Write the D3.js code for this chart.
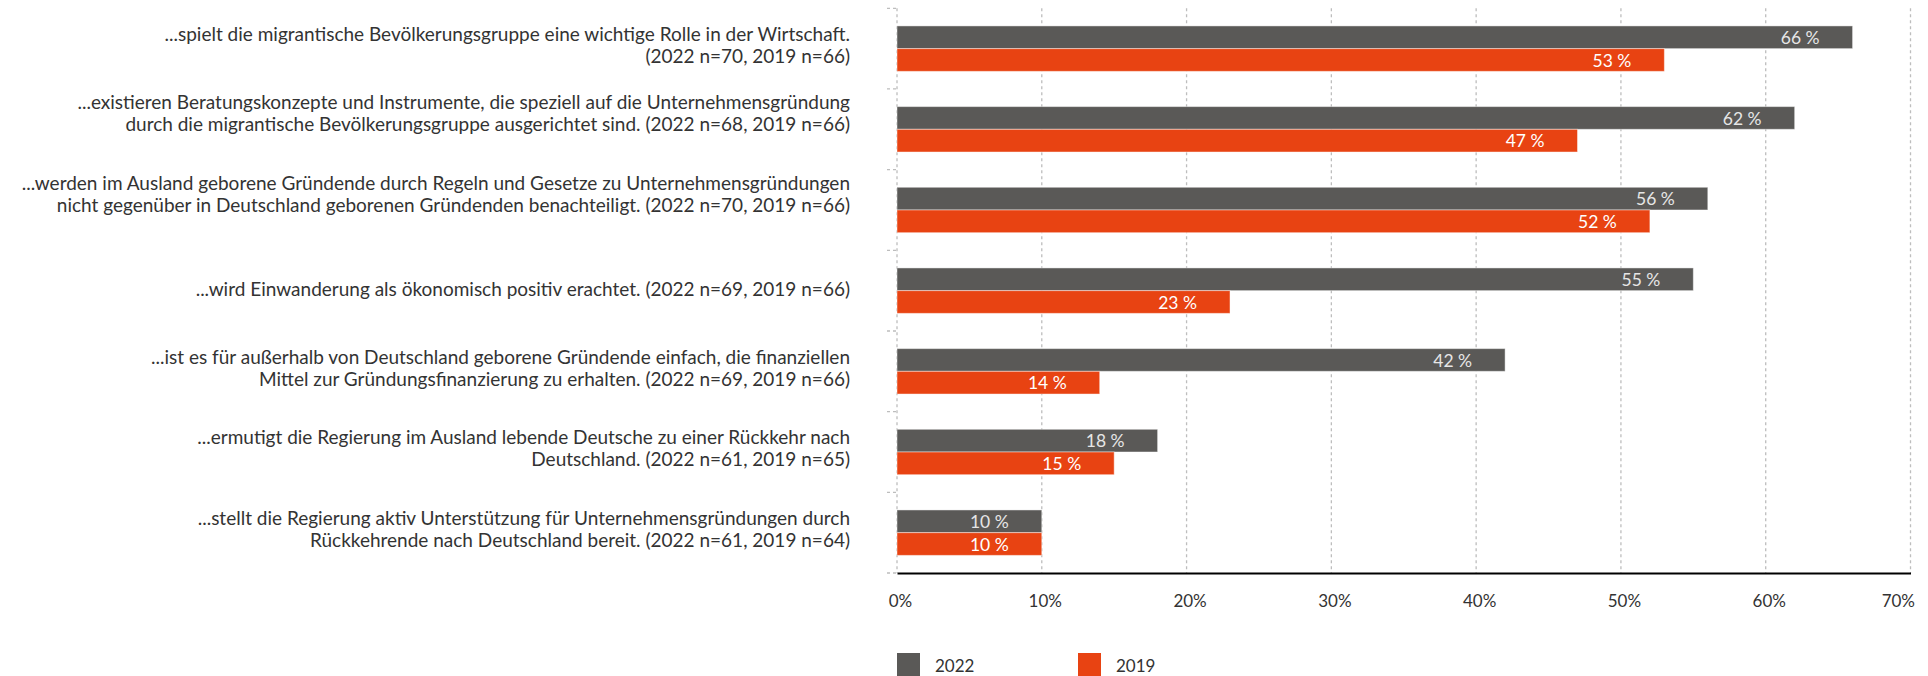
<!DOCTYPE html>
<html lang="de">
<head>
<meta charset="utf-8">
<script src="https://cdn.jsdelivr.net/npm/d3@7"></script>
<style>
  html, body { margin: 0; padding: 0; background: #fff; }
  svg { display: block; }
  text { font-family: Lato, "Open Sans", sans-serif; }
</style>
</head>
<body>
<svg id="chart" width="1928" height="676"></svg>
<script>
// Statement labels, one entry per line (a trailing "" keeps the original line break)
const statements = [
  ["...spielt die migrantische Bevölkerungsgruppe eine wichtige Rolle in der Wirtschaft.",
   "(2022 n=70, 2019 n=66)"],
  ["...existieren Beratungskonzepte und Instrumente, die speziell auf die Unternehmensgründung",
   "durch die migrantische Bevölkerungsgruppe ausgerichtet sind. (2022 n=68, 2019 n=66)", ""],
  ["...werden im Ausland geborene Gründende durch Regeln und Gesetze zu Unternehmensgründungen",
   "nicht gegenüber in Deutschland geborenen Gründenden benachteiligt. (2022 n=70, 2019 n=66)", ""],
  ["...wird Einwanderung als ökonomisch positiv erachtet. (2022 n=69, 2019 n=66)"],
  ["...ist es für außerhalb von Deutschland geborene Gründende einfach, die finanziellen",
   "Mittel zur Gründungsfinanzierung zu erhalten. (2022 n=69, 2019 n=66)"],
  ["...ermutigt die Regierung im Ausland lebende Deutsche zu einer Rückkehr nach",
   "Deutschland. (2022 n=61, 2019 n=65)"],
  ["...stellt die Regierung aktiv Unterstützung für Unternehmensgründungen durch",
   "Rückkehrende nach Deutschland bereit. (2022 n=61, 2019 n=64)"]
];

const seriesNames = ["2022", "2019"];
const values2022 = [66, 62, 56, 55, 42, 18, 10];
const values2019 = [53, 47, 52, 23, 14, 15, 10];
const tickValues = [0, 10, 20, 30, 40, 50, 60, 70];

const colors = { "2022": "#5a5957", "2019": "#e84312" };
const labelColors = { "2022": "#e6e6e6", "2019": "#ffffff" };

const svg = d3.select("#chart");

const plot = { left: 897, right: 1910.5, top: 8.3, bottom: 573 };

const x = d3.scaleLinear().domain([0, 70]).range([plot.left, plot.right]);
const y = d3.scaleBand().domain(d3.range(statements.length)).range([plot.top, plot.bottom]).padding(0);
const ySub = d3.scaleBand().domain(seriesNames).range([0, y.bandwidth()])
  .paddingInner(0).paddingOuter(0.776);

const rows = statements.map((lines, i) => ({
  i, lines,
  vals: [{ key: "2022", v: values2022[i] }, { key: "2019", v: values2019[i] }]
}));

// vertical dashed gridlines
svg.append("g").selectAll("line").data(tickValues).join("line")
  .attr("x1", d => x(d)).attr("x2", d => x(d))
  .attr("y1", plot.top).attr("y2", plot.bottom)
  .attr("stroke", "#bdbdbd").attr("stroke-width", 1.3)
  .attr("stroke-dasharray", "3,3");

// small dashed ticks at the band boundaries on the left
svg.append("g").selectAll("line").data(d3.range(statements.length + 1)).join("line")
  .attr("x1", plot.left - 10).attr("x2", plot.left)
  .attr("y1", d => d < statements.length ? y(d) : plot.bottom)
  .attr("y2", d => d < statements.length ? y(d) : plot.bottom)
  .attr("stroke", "#bdbdbd").attr("stroke-width", 1.3)
  .attr("stroke-dasharray", "3,3");

// bars
const groups = svg.append("g").selectAll("g").data(rows).join("g")
  .attr("transform", d => `translate(0,${y(d.i)})`);

groups.selectAll("rect").data(d => d.vals).join("rect")
  .attr("x", x(0))
  .attr("y", d => ySub(d.key))
  .attr("width", d => x(d.v) - x(0))
  .attr("height", ySub.bandwidth())
  .attr("fill", d => colors[d.key])
  .attr("stroke", "rgba(255,255,255,0.45)")
  .attr("stroke-width", 1);

groups.selectAll("text.val").data(d => d.vals).join("text")
  .attr("class", "val")
  .attr("x", d => x(d.v) - 33)
  .attr("y", d => ySub(d.key) + ySub.bandwidth() / 2)
  .attr("dy", "0.38em")
  .attr("text-anchor", "end")
  .attr("font-size", 17.5)
  .attr("fill", d => labelColors[d.key])
  .text(d => `${d.v} %`);

// statement labels, right-aligned before the plot
const lineH = 22;
const labels = svg.append("g").selectAll("text").data(rows).join("text")
  .attr("text-anchor", "end")
  .attr("font-size", 19)
  .attr("fill", "#333333")
  .attr("transform", d => {
    const cy = y(d.i) + y.bandwidth() / 2;
    return `translate(850,${cy + 5 - (d.lines.length - 1) * 12.5})`;
  });
labels.selectAll("tspan").data(d => d.lines).join("tspan")
  .attr("x", 0)
  .attr("y", (d, k) => k * lineH)
  .text(d => d);

// bottom axis
const axis = d3.axisBottom(x).tickValues(tickValues)
  .tickFormat(d => `${d}%`).tickSize(0).tickPadding(0);
const ax = svg.append("g").attr("transform", `translate(0,${plot.bottom})`).call(axis);
ax.select(".domain").attr("stroke", "#000").attr("stroke-width", 2.2);
ax.selectAll(".tick text")
  .attr("font-family", "Lato, 'Open Sans', sans-serif")
  .attr("font-size", 17).attr("fill", "#333")
  .attr("y", 34).attr("dy", 0)
  .attr("dx", 3);
ax.selectAll(".tick").filter(d => d === 70).select("text")
  .attr("text-anchor", "end").attr("dx", 4);

// legend
const legend = svg.append("g").attr("transform", "translate(897,653)");
const li = legend.selectAll("g").data(seriesNames).join("g")
  .attr("transform", (d, i) => `translate(${i * 181},0)`);
li.append("rect").attr("width", 23).attr("height", 24).attr("fill", d => colors[d]);
li.append("text").attr("x", 38).attr("y", 19)
  .attr("font-size", 17).attr("fill", "#333").text(d => d);
</script>
</body>
</html>
